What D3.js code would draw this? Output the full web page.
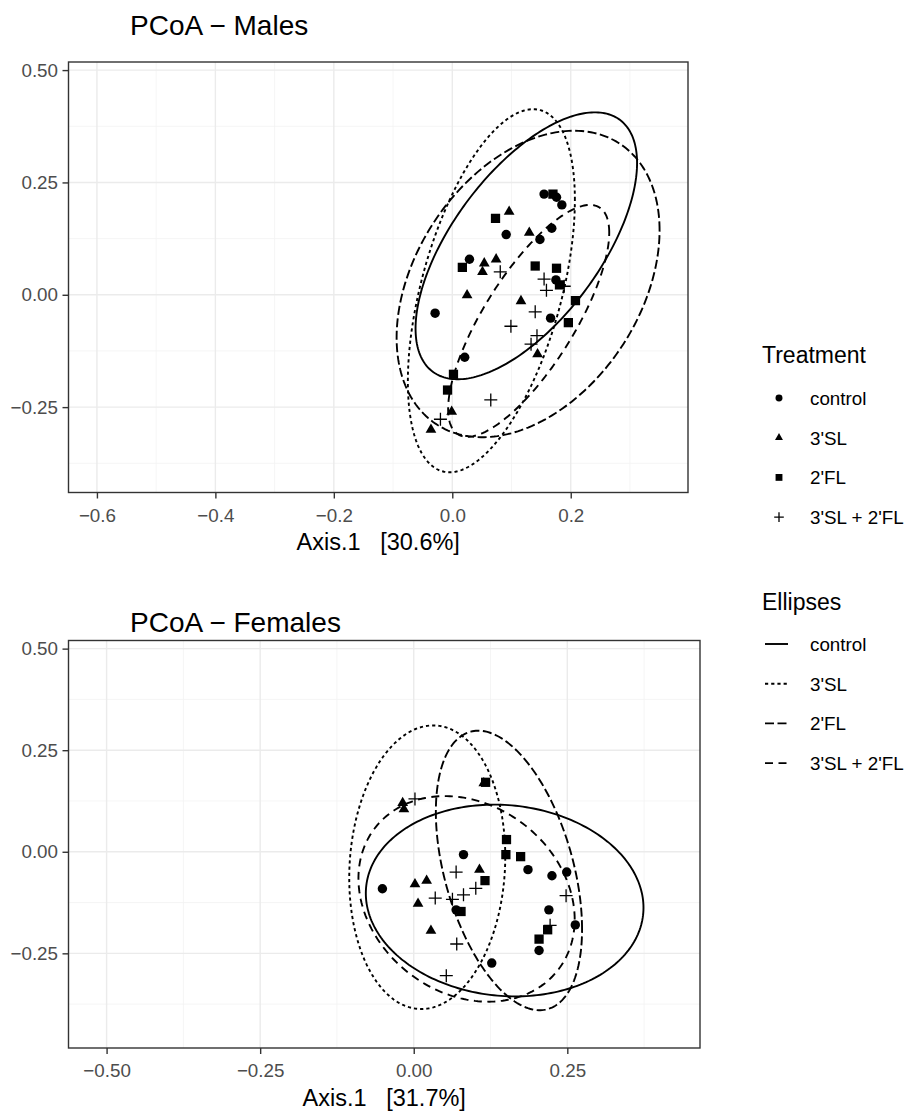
<!DOCTYPE html>
<html>
<head>
<meta charset="utf-8">
<script src="https://cdn.jsdelivr.net/npm/d3@7"></script>
<style>
  body { margin: 0; background: #fff; }
  svg { font-family: "Liberation Sans", Arial, sans-serif; }
</style>
</head>
<body>
<script>
// ---- data ----
const treatments = ["control", "3'SL", "2'FL", "3'SL + 2'FL"];

// Males, Axis.1 / Axis.2 coordinates
const malesControl = [[0.155, 0.224], [0.176, 0.217], [0.185, 0.200], [0.168, 0.148], [0.091, 0.134], [0.148, 0.123],
  [0.029, 0.079], [0.175, 0.033], [-0.029, -0.041], [0.166, -0.052], [0.021, -0.139]];
const males3SL = [[0.096, 0.185], [0.130, 0.138], [0.054, 0.070], [0.074, 0.079], [0.051, 0.051], [0.025, -0.001],
  [0.116, -0.014], [0.144, -0.132], [-0.001, -0.260], [-0.036, -0.300]];
const males2FL = [[0.170, 0.224], [0.073, 0.170], [0.017, 0.061], [0.140, 0.064], [0.176, 0.059], [0.181, 0.022],
  [0.208, -0.013], [0.196, -0.062], [0.002, -0.177], [-0.008, -0.212]];
const malesCombo = [[0.081, 0.051], [0.155, 0.035], [0.159, 0.010], [0.189, 0.019], [0.140, -0.038], [0.099, -0.070],
  [0.143, -0.091], [0.133, -0.110], [0.065, -0.234], [-0.020, -0.277]];

// Females
const femalesControl = [[-0.051, -0.091], [0.081, -0.007], [0.069, -0.143], [0.127, -0.274], [0.186, -0.044],
  [0.225, -0.059], [0.249, -0.050], [0.220, -0.143], [0.263, -0.180], [0.204, -0.243]];
const females3SL = [[-0.018, 0.120], [-0.016, 0.105], [0.002, -0.080], [0.021, -0.071], [0.007, -0.128],
  [0.028, -0.194], [0.107, -0.044], [0.114, 0.169]];
const females2FL = [[0.117, 0.171], [0.151, 0.030], [0.150, -0.007], [0.174, -0.012], [0.116, -0.071],
  [0.077, -0.147], [0.218, -0.192], [0.204, -0.215]];
const femalesCombo = [[0.002, 0.130], [0.069, -0.050], [0.035, -0.114], [0.063, -0.117], [0.081, -0.106],
  [0.101, -0.090], [0.248, -0.108], [0.222, -0.181], [0.070, -0.227], [0.053, -0.305]];

// ellipses: centre x, centre y, half width, half height, correlation
const malesEllipses = [[0.125, 0.109, 0.187, 0.297, 0.62], [0.066, 0.009, 0.141, 0.404, 0.50],
  [0.128, 0.024, 0.222, 0.341, 0.35], [0.129, -0.058, 0.136, 0.258, 0.76]];
const femalesEllipses = [[0.148, -0.120, 0.226, 0.236, -0.075], [0.022, -0.038, 0.127, 0.349, 0.076],
  [0.155, -0.046, 0.119, 0.344, -0.42], [0.086, -0.116, 0.176, 0.253, -0.2]];

const malesXTicks = [-0.6, -0.4, -0.2, 0.0, 0.2];
const femalesXTicks = [-0.50, -0.25, 0.00, 0.25];
const yTicks = [-0.25, 0.00, 0.25, 0.50];

// ---- styles ----
const dashes = [null, "3.2,3", "9,3.5", "8,5.5"];
const symbolTypes = [d3.symbolCircle, d3.symbolTriangle, d3.symbolSquare, null];
const symbolSizes = [70, 50, 86];
const TICK_FONT = 18.8;

const W = 909, H = 1115;
const svg = d3.select("body").append("svg").attr("width", W).attr("height", H);

function midpoints(ticks) {
  var step = ticks[1] - ticks[0];
  var out = [ticks[0] - step / 2];
  ticks.forEach(function (t) { out.push(t + step / 2); });
  return out;
}

function drawMark(g, k, scaleUp) {
  var s = scaleUp || 1;
  if (symbolTypes[k]) {
    g.append("path")
      .attr("d", d3.symbol().type(symbolTypes[k]).size(symbolSizes[k] * s * s)())
      .attr("fill", "black");
  } else {
    var h = 6.5 * s;
    g.append("path")
      .attr("d", "M" + (-h) + ",0H" + h + "M0," + (-h) + "V" + h)
      .attr("stroke", "black").attr("stroke-width", 1.3).attr("fill", "none");
  }
}

function drawPanel(p) {
  var x = d3.scaleLinear().domain(p.xDomain).range([p.left, p.right]);
  var y = d3.scaleLinear().domain(p.yDomain).range([p.bottom, p.top]);
  var g = svg.append("g");

  g.append("rect")
    .attr("x", p.left).attr("y", p.top)
    .attr("width", p.right - p.left).attr("height", p.bottom - p.top)
    .attr("fill", "white");

  // grid
  var grid = g.append("g");
  midpoints(p.xTicks).forEach(function (v) {
    if (v > p.xDomain[0] && v < p.xDomain[1])
      grid.append("line").attr("x1", x(v)).attr("x2", x(v)).attr("y1", p.top).attr("y2", p.bottom)
        .attr("stroke", "#F2F2F2").attr("stroke-width", 0.8);
  });
  midpoints(yTicks).forEach(function (v) {
    if (v > p.yDomain[0] && v < p.yDomain[1])
      grid.append("line").attr("y1", y(v)).attr("y2", y(v)).attr("x1", p.left).attr("x2", p.right)
        .attr("stroke", "#F2F2F2").attr("stroke-width", 0.8);
  });
  p.xTicks.forEach(function (v) {
    grid.append("line").attr("x1", x(v)).attr("x2", x(v)).attr("y1", p.top).attr("y2", p.bottom)
      .attr("stroke", "#EBEBEB").attr("stroke-width", 1.4);
  });
  yTicks.forEach(function (v) {
    grid.append("line").attr("y1", y(v)).attr("y2", y(v)).attr("x1", p.left).attr("x2", p.right)
      .attr("stroke", "#EBEBEB").attr("stroke-width", 1.4);
  });

  // ellipses
  var steps = d3.range(0, 2 * Math.PI, Math.PI / 120);
  var line = d3.line().x(function (d) { return x(d[0]); }).y(function (d) { return y(d[1]); })
    .curve(d3.curveLinearClosed);
  p.ellipses.forEach(function (e, k) {
    var pts = steps.map(function (t) {
      return [e[0] + e[2] * Math.cos(t),
        e[1] + e[3] * (e[4] * Math.cos(t) + Math.sqrt(1 - e[4] * e[4]) * Math.sin(t))];
    });
    g.append("path").attr("d", line(pts))
      .attr("fill", "none").attr("stroke", "black").attr("stroke-width", 1.9)
      .attr("stroke-dasharray", dashes[k]);
  });

  // points
  p.groups.forEach(function (grp, k) {
    grp.forEach(function (d) {
      var m = g.append("g").attr("transform", "translate(" + x(d[0]) + "," + y(d[1]) + ")");
      drawMark(m, k);
    });
  });

  // border
  g.append("rect")
    .attr("x", p.left).attr("y", p.top)
    .attr("width", p.right - p.left).attr("height", p.bottom - p.top)
    .attr("fill", "none").attr("stroke", "#333333").attr("stroke-width", 1.4);

  // axes
  var xAxis = d3.axisBottom(x).tickValues(p.xTicks).tickFormat(d3.format(p.xFmt))
    .tickSizeInner(6).tickSizeOuter(0).tickPadding(10);
  var ax = g.append("g").attr("transform", "translate(0," + p.bottom + ")").call(xAxis);
  var yAxis = d3.axisLeft(y).tickValues(yTicks).tickFormat(d3.format(".2f"))
    .tickSizeInner(6).tickSizeOuter(0).tickPadding(4.5);
  var ay = g.append("g").attr("transform", "translate(" + p.left + ",0)").call(yAxis);
  [ax, ay].forEach(function (a) {
    a.attr("font-size", TICK_FONT).attr("font-family", "Liberation Sans, Arial, sans-serif");
    a.select(".domain").remove();
    a.selectAll(".tick line").attr("stroke", "#333333").attr("stroke-width", 1.4);
    a.selectAll(".tick text").attr("fill", "#4D4D4D");
  });

  g.append("text").attr("x", 130).attr("y", p.titleY)
    .attr("font-size", 28).attr("fill", "black").text(p.title);
  g.append("text").attr("x", (p.left + p.right) / 2).attr("y", p.xlabY)
    .attr("text-anchor", "middle").attr("font-size", 23.5).attr("fill", "black")
    .style("white-space", "pre").text(p.xlab);
}

drawPanel({
  title: "PCoA \u2212 Males", titleY: 35, xlab: "Axis.1   [30.6%]", xlabY: 550,
  left: 68.5, right: 688, top: 62, bottom: 492.5,
  xDomain: [-0.648, 0.398], yDomain: [-0.44, 0.518],
  xTicks: malesXTicks, xFmt: ".1f",
  groups: [malesControl, males3SL, males2FL, malesCombo],
  ellipses: malesEllipses
});

drawPanel({
  title: "PCoA \u2212 Females", titleY: 632, xlab: "Axis.1   [31.7%]", xlabY: 1106,
  left: 68.5, right: 700, top: 640.5, bottom: 1048,
  xDomain: [-0.562, 0.466], yDomain: [-0.483, 0.52],
  xTicks: femalesXTicks, xFmt: ".2f",
  groups: [femalesControl, females3SL, females2FL, femalesCombo],
  ellipses: femalesEllipses
});

// ---- legends ----
var leg = svg.append("g");
leg.append("text").attr("x", 762).attr("y", 363).attr("font-size", 23).text("Treatment");
treatments.forEach(function (name, k) {
  var cy = 398 + k * 39.7;
  var m = leg.append("g").attr("transform", "translate(779," + cy + ")");
  drawMark(m, k, 0.74);
  leg.append("text").attr("x", 810).attr("y", cy + 6.8).attr("font-size", TICK_FONT).text(name);
});

leg.append("text").attr("x", 762).attr("y", 610).attr("font-size", 23).text("Ellipses");
treatments.forEach(function (name, k) {
  var cy = 644 + k * 39.7;
  leg.append("line").attr("x1", 765).attr("x2", 788).attr("y1", cy).attr("y2", cy)
    .attr("stroke", "black").attr("stroke-width", 1.9).attr("stroke-dasharray", dashes[k]);
  leg.append("text").attr("x", 810).attr("y", cy + 6.8).attr("font-size", TICK_FONT).text(name);
});
</script>
</body>
</html>
